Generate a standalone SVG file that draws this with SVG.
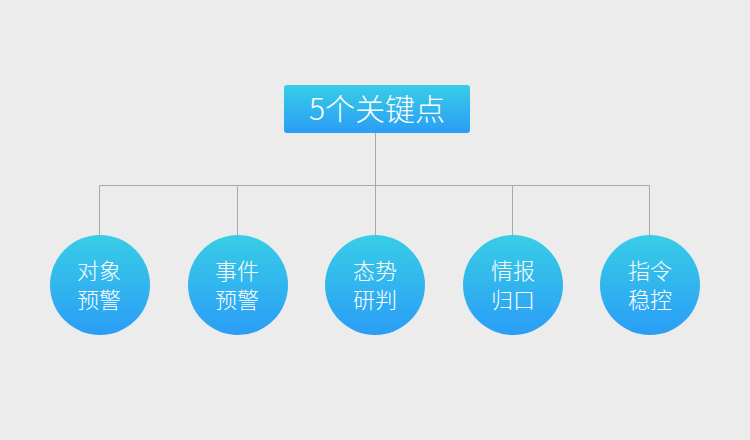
<svg xmlns="http://www.w3.org/2000/svg" width="750" height="440" viewBox="0 0 750 440">
<defs>
<linearGradient id="g" x1="0" y1="0" x2="0" y2="1">
<stop offset="0" stop-color="#38cde6"/>
<stop offset="1" stop-color="#2a9df6"/>
</linearGradient>
<style>
.n{fill:url(#g)}
.t{font-family:"Noto Sans CJK SC","Noto Sans",sans-serif;font-weight:300;fill:#fff;text-anchor:middle}
.c{font-size:22px}
.l{stroke:#a8a8a8;stroke-width:1;fill:none}
</style>
</defs>
<rect width="750" height="440" fill="#ececec"/>
<g id="connectors">
<path class="l" d="M375.5 133V185.5M99.5 185.5H649.5M99.5 185.5V236M237.5 185.5V236M375.5 185.5V236M512.5 185.5V236M649.5 185.5V236"/>
</g>
<g id="root">
<rect class="n" x="284" y="85" width="186" height="48" rx="3"/>
<text class="t" x="377" y="120" font-size="30">5个关键点</text>
</g>
<g id="n1"><circle class="n" cx="100" cy="285" r="50"/><text class="t c" x="99" y="279">对象</text><text class="t c" x="99" y="308">预警</text></g>
<g id="n2"><circle class="n" cx="238" cy="285" r="50"/><text class="t c" x="237" y="279">事件</text><text class="t c" x="237" y="308">预警</text></g>
<g id="n3"><circle class="n" cx="375" cy="285" r="50"/><text class="t c" x="375" y="279">态势</text><text class="t c" x="375" y="308">研判</text></g>
<g id="n4"><circle class="n" cx="513" cy="285" r="50"/><text class="t c" x="513" y="279">情报</text><text class="t c" x="513" y="308">归口</text></g>
<g id="n5"><circle class="n" cx="650" cy="285" r="50"/><text class="t c" x="650" y="279">指令</text><text class="t c" x="650" y="308">稳控</text></g>
</svg>
